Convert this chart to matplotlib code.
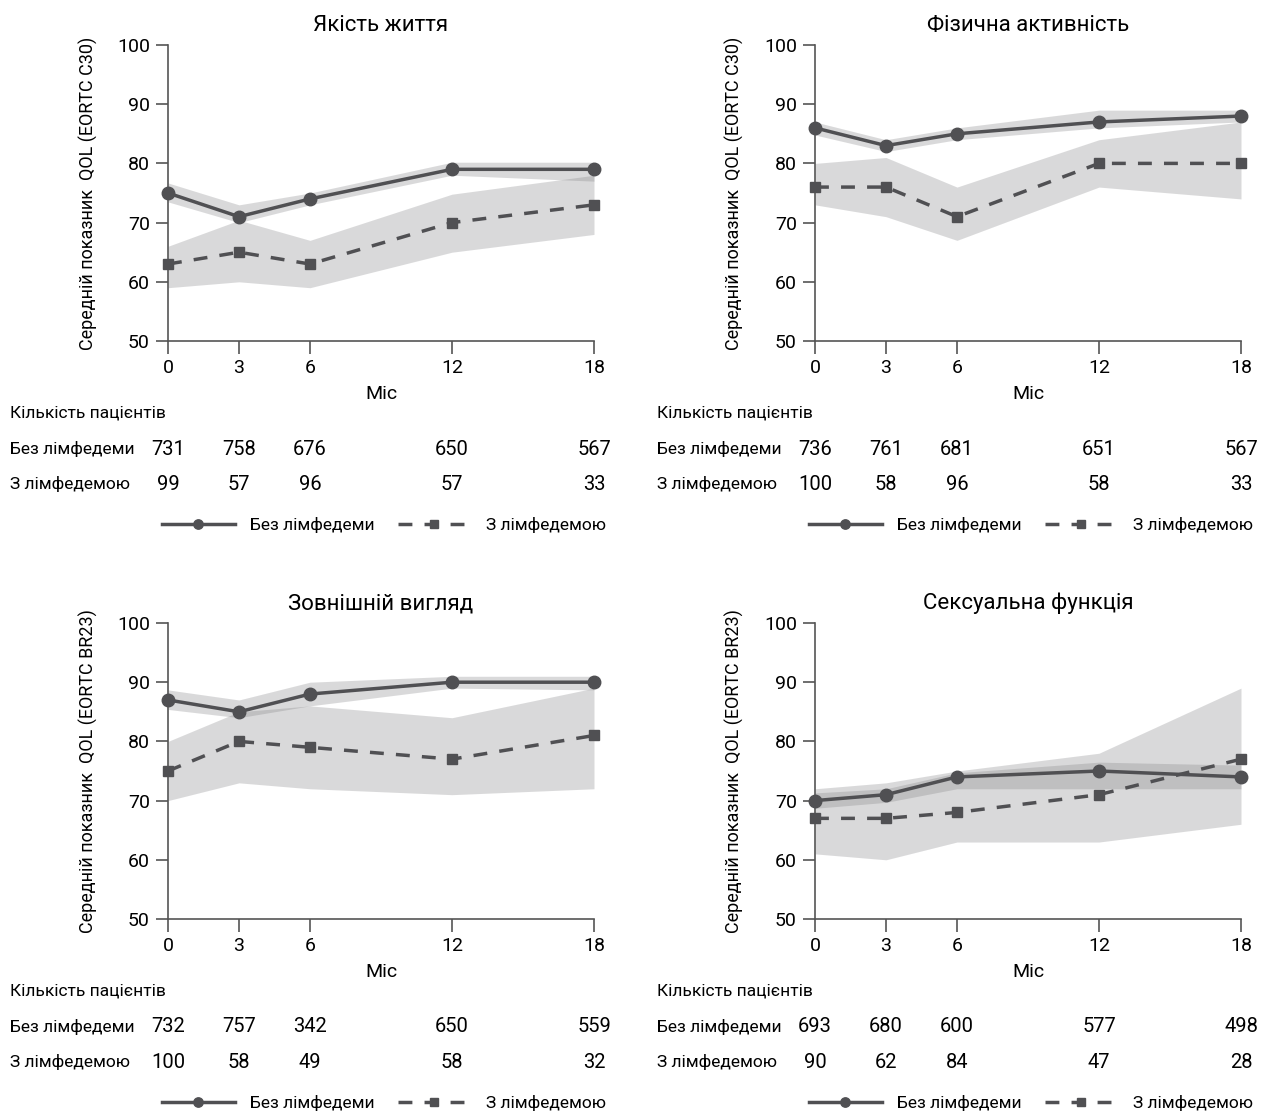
import numpy as np
import matplotlib
matplotlib.use("Agg")
import matplotlib.pyplot as plt

plt.rcParams['font.family'] = ['Roboto', 'DejaVu Sans']

months = [0, 3, 6, 12, 18]
titles = ["Якість життя", "Фізична активність", "Зовнішній вигляд", "Сексуальна функція"]
ylabels = ["Середній показник  QOL (EORTC C30)", "Середній показник  QOL (EORTC C30)",
           "Середній показник  QOL (EORTC BR23)", "Середній показник  QOL (EORTC BR23)"]

# без лімфедеми: середнє, нижня і верхня межа
no_mean = [[75, 71, 74, 79, 79], [86, 83, 85, 87, 88], [87, 85, 88, 90, 90], [70, 71, 74, 75, 74]]
no_lo = [[73.5, 70, 73, 78, 77], [84.8, 82, 84, 86, 87], [85.4, 84, 86, 89, 88.7], [68.7, 69.7, 72, 72, 72]]
no_hi = [[76.7, 73, 75, 80.2, 80.2], [87, 84, 86, 89, 89], [88.7, 87, 90, 91, 91], [71.3, 72, 74.7, 76.5, 76]]
# з лімфедемою
ly_mean = [[63, 65, 63, 70, 73], [76, 76, 71, 80, 80], [75, 80, 79, 77, 81], [67, 67, 68, 71, 77]]
ly_lo = [[59, 60, 59, 65, 68], [73, 71, 67, 76, 74], [70, 73, 72, 71, 72], [61, 60, 63, 63, 66]]
ly_hi = [[66, 70.4, 67, 74.8, 78], [80, 81, 76, 84, 87], [80, 85, 86, 84, 89], [72, 73, 75, 78, 89]]

n_no = [[731, 758, 676, 650, 567], [736, 761, 681, 651, 567], [732, 757, 342, 650, 559], [693, 680, 600, 577, 498]]
n_ly = [[99, 57, 96, 57, 33], [100, 58, 96, 58, 33], [100, 58, 49, 58, 32], [90, 62, 84, 47, 28]]

W, H = 1269, 1115
fig = plt.figure(figsize=(W / 100, H / 100), dpi=100, facecolor='w')

line_c = '#505053'
band_c = '#848487'
fs = 13

# left, top pixel of each axes
boxes = [(168, 45), (815, 45), (168, 623), (815, 623)]
aw, ah = 426, 296
label_x = [10, 657, 10, 657]

for i in range(4):
    x0, y0 = boxes[i]
    ax = fig.add_axes([x0 / W, 1 - (y0 + ah) / H, aw / W, ah / H])
    ax.fill_between(months, no_lo[i], no_hi[i], color=band_c, alpha=0.3, lw=0)
    ax.fill_between(months, ly_lo[i], ly_hi[i], color=band_c, alpha=0.3, lw=0)
    ax.plot(months, no_mean[i], '-', color=line_c, lw=2.5, marker='o', ms=9,
            clip_on=False, zorder=5, label="Без лімфедеми")
    ax.plot(months, ly_mean[i], '--', color=line_c, lw=2.5, marker='s', ms=7.5,
            dashes=(4, 3.5), clip_on=False, zorder=5, label="З лімфедемою")
    ax.set_xlim(0, 18)
    ax.set_ylim(50, 100)
    ax.set_xticks(months)
    ax.set_yticks([50, 60, 70, 80, 90, 100])
    for s in ['top', 'right']:
        ax.spines[s].set_visible(False)
    for s in ['left', 'bottom']:
        ax.spines[s].set_color('#555555')
        ax.spines[s].set_linewidth(1.2)
    ax.tick_params(length=9, width=1.2, color='#555555', labelsize=fs + 1, pad=4)
    ax.set_title(titles[i], fontsize=fs + 3, pad=10)
    ax.set_xlabel("Міс", fontsize=fs + 1, labelpad=6)
    ax.set_ylabel(ylabels[i], fontsize=fs, labelpad=14)

    # таблиця кількості пацієнтів
    tr = ax.get_xaxis_transform()
    lx = label_x[i] / W
    fig.text(lx, 1 - (y0 + ah + 72) / H, "Кількість пацієнтів", fontsize=12.5, va='center')
    fig.text(lx, 1 - (y0 + ah + 108) / H, "Без лімфедеми", fontsize=12.5, va='center')
    fig.text(lx, 1 - (y0 + ah + 143) / H, "З лімфедемою", fontsize=12.5, va='center')
    for m, a, b in zip(months, n_no[i], n_ly[i]):
        ax.text(m, -108 / ah, str(a), transform=tr, ha='center', va='center', fontsize=fs + 1.5)
        ax.text(m, -143 / ah, str(b), transform=tr, ha='center', va='center', fontsize=fs + 1.5)

    ax.legend(loc='center right', bbox_to_anchor=(1.045, -184 / ah), ncol=2, frameon=False,
              fontsize=12.5, numpoints=1, handlelength=4.2, columnspacing=1.3,
              handletextpad=0.9, borderaxespad=0, markerscale=0.75)

fig.savefig("out.png", dpi=100)
